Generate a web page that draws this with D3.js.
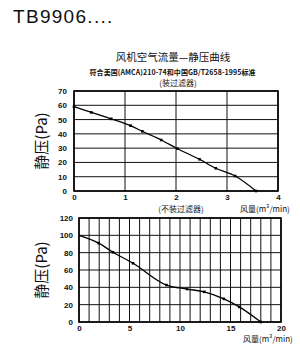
<!DOCTYPE html>
<html>
<head>
<meta charset="utf-8">
<script src="https://cdn.jsdelivr.net/npm/d3@7"></script>
<style>
  body { margin: 0; background: #fff; }
  svg { display: block; }
  text { font-family: "Liberation Sans", Arial, "Noto Sans CJK SC", sans-serif; fill: #111; }
  .cjk { font-family: "Noto Sans CJK SC", sans-serif; }
</style>
</head>
<body>
<div id="chart"></div>
<script>
// (装过滤器) 曲线
const topFlow = [0, 0.34, 0.73, 1.11, 1.34, 1.71, 2.03, 2.46, 2.78, 3.16, 3.57];
const topPressure = [59, 55, 50.5, 45.7, 41.8, 35.7, 29.6, 22.2, 15.9, 10.5, 0];
const topXTicks = [0, 1, 2, 3, 4];
const topYTicks = [0, 10, 20, 30, 40, 50, 60, 70];

// (不装过滤器) 曲线
const botFlow = [0, 1.95, 3.37, 5.35, 8.66, 10.7, 12.4, 14.35, 15.87, 18];
const botPressure = [100, 91, 80.5, 67.8, 42.6, 38, 34.8, 26.7, 17.4, 0];
const botXLabels = [0, 5, 10, 15, 20];
const botXGrid = d3.range(0, 21, 1);
const botYTicks = [0, 20, 40, 60, 80, 100, 120];

const w = 300, h = 355;
const svg = d3.select("#chart").append("svg").attr("width", w).attr("height", h);

svg.append("text").attr("x", 13).attr("y", 23)
   .attr("font-size", 19).attr("letter-spacing", 1.3).text("TB9906....");

svg.append("text").attr("class", "cjk").attr("x", 173).attr("y", 60.5)
   .attr("text-anchor", "middle").attr("font-size", 10.5).text("风机空气流量—静压曲线");
svg.append("text").attr("class", "cjk").attr("x", 172.5).attr("y", 74.5)
   .attr("text-anchor", "middle").attr("font-size", 7).attr("font-weight", "bold")
   .attr("textLength", 166).text("符合美国(AMCA)210-74和中国GB/T2658-1995标准");
svg.append("text").attr("class", "cjk").attr("x", 178).attr("y", 86)
   .attr("text-anchor", "middle").attr("font-size", 8).text("(装过滤器)");

function drawChart(o) {
  const x = d3.scaleLinear().domain(o.xDomain).range([o.left, o.right]);
  const y = d3.scaleLinear().domain(o.yDomain).range([o.bottom, o.top]);
  const g = svg.append("g");

  // 网格
  g.append("g").selectAll("line").data(o.xGrid).enter().append("line")
   .attr("x1", d => x(d)).attr("x2", d => x(d))
   .attr("y1", o.top).attr("y2", o.bottom)
   .attr("stroke", "#111").attr("stroke-width", 1);
  g.append("g").selectAll("line").data(o.yTicks).enter().append("line")
   .attr("x1", o.left).attr("x2", o.right)
   .attr("y1", d => y(d)).attr("y2", d => y(d))
   .attr("stroke", "#111").attr("stroke-width", 1);
  g.append("rect").attr("x", o.left).attr("y", o.top)
   .attr("width", o.right - o.left).attr("height", o.bottom - o.top)
   .attr("fill", "none").attr("stroke", "#000").attr("stroke-width", 1.6);

  // 刻度标签
  const xAxis = d3.axisBottom(x).tickValues(o.xLabels).tickSize(0).tickPadding(3)
                  .tickFormat(d3.format("d"));
  const gx = g.append("g").attr("transform", "translate(0," + o.bottom + ")").call(xAxis);
  gx.select(".domain").remove();
  gx.selectAll("text").attr("font-size", 8).attr("font-weight", "bold")
    .attr("font-family", "Liberation Sans, Arial, sans-serif");

  const yAxis = d3.axisLeft(y).tickValues(o.yTicks).tickSize(0).tickPadding(o.yPad);
  const gy = g.append("g").attr("transform", "translate(" + o.left + ",0)").call(yAxis);
  gy.select(".domain").remove();
  gy.selectAll("text").attr("font-size", 8).attr("font-weight", "bold")
    .attr("font-family", "Liberation Sans, Arial, sans-serif");

  // 曲线
  const pts = o.xs.map((v, i) => [v, o.ys[i]]);
  const line = d3.line().x(d => x(d[0])).y(d => y(d[1])).curve(d3.curveMonotoneX);
  g.append("path").datum(pts).attr("d", line)
   .attr("fill", "none").attr("stroke", "#000").attr("stroke-width", 1.3);
  g.append("g").selectAll("rect").data(pts.slice(o.markFrom)).enter().append("rect")
   .attr("x", d => x(d[0]) - 1.3).attr("y", d => y(d[1]) - 1.3)
   .attr("width", 2.6).attr("height", 2.6).attr("fill", "#000");

  // 轴标题
  svg.append("text").attr("class", "cjk")
     .attr("transform", "translate(" + o.yTitleX + "," + (o.top + o.bottom) / 2 + ") rotate(-90)")
     .attr("text-anchor", "middle").attr("font-size", 15).text("静压(Pa)");
  svg.append("text").attr("class", "cjk").attr("x", o.xTitleX).attr("y", o.xTitleY)
     .attr("font-size", 8).text("风量(m³/min)");
}

drawChart({
  xDomain: [0, 4], yDomain: [0, 70],
  left: 74, right: 278, top: 91, bottom: 191,
  xGrid: topXTicks, xLabels: topXTicks, yTicks: topYTicks, yPad: 7,
  xs: topFlow, ys: topPressure, markFrom: 0,
  yTitleX: 47, xTitleX: 240, xTitleY: 212
});

svg.append("text").attr("class", "cjk").attr("x", 181).attr("y", 212)
   .attr("text-anchor", "middle").attr("font-size", 8).text("(不装过滤器)");

drawChart({
  xDomain: [0, 20], yDomain: [0, 120],
  left: 79, right: 281, top: 218, bottom: 322,
  xGrid: botXGrid, xLabels: botXLabels, yTicks: botYTicks, yPad: 6,
  xs: botFlow, ys: botPressure, markFrom: 1,
  yTitleX: 47, xTitleX: 243, xTitleY: 342
});
</script>
</body>
</html>
